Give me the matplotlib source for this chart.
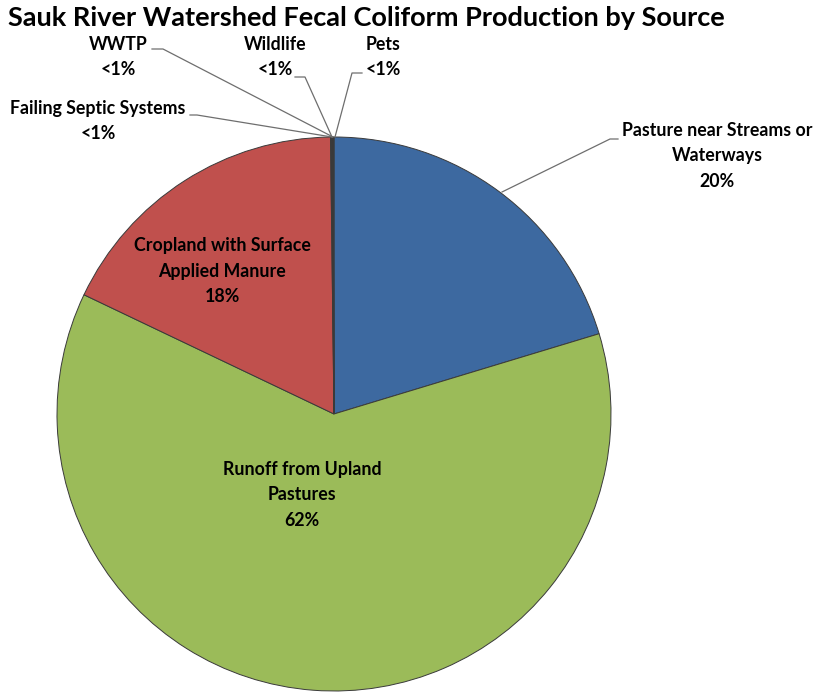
import matplotlib.pyplot as plt

# data (clockwise from 12 o'clock)
sources = ['Pasture near Streams or\nWaterways', 'Runoff from Upland\nPastures',
           'Cropland with Surface\nApplied Manure', 'Failing Septic Systems',
           'WWTP', 'Wildlife', 'Pets']
shares = [20.3, 61.7, 17.7, 0.06, 0.03, 0.06, 0.05]
pct_labels = ['20%', '62%', '18%', '<1%', '<1%', '<1%', '<1%']
colors = ['#3D69A0', '#9BBB59', '#C0504D', '#6B3A2A', '#3A2A20', '#5A3020', '#2E1E14']

W, H = 816, 692
fig = plt.figure(figsize=(W / 100, H / 100), dpi=100)

cx, cy, r = 334, 414, 277
ax = fig.add_axes([(cx - r) / W, (H - cy - r) / H, 2 * r / W, 2 * r / H])
ax.pie(shares, colors=colors, startangle=90, counterclock=False, radius=1,
       wedgeprops=dict(edgecolor='#3a3a3a', linewidth=0.7))
ax.set_xlim(-1, 1)
ax.set_ylim(-1, 1)
ax.axis('off')


def px(x, y):
    # pixel coords -> data coords
    return (x - cx) / r, (cy - y) / r


font = dict(family=['Lato', 'DejaVu Sans'], fontweight='bold', fontsize=12.8,
            color='black', ha='center', va='center', linespacing=1.6)

fig.text(366 / W, 1 - 18 / H, 'Sauk River Watershed Fecal Coliform Production by Source',
         ha='center', va='center', fontsize=19.5, fontweight='bold',
         family=['Lato', 'DejaVu Sans'])

# label positions (pixels)
label_pos = {
    0: (717, 156),
    1: (302, 495),
    2: (222, 271),
    3: (98, 121),
    4: (118, 57),
    5: (275, 57),
    6: (383, 57),
}
for i, (x, y) in label_pos.items():
    tx, ty = px(x, y)
    ax.text(tx, ty, sources[i] + '\n' + pct_labels[i], clip_on=False, **font)

# leader lines (pixels)
leaders = [
    [(618, 139), (610, 139), (502, 192)],
    [(190, 115), (197, 115), (332, 137)],
    [(152, 49), (163, 49), (333, 137)],
    [(295, 77), (305, 77), (332, 137)],
    [(362, 73), (352, 73), (335, 137)],
]
for pts in leaders:
    xs, ys = zip(*[px(a, b) for a, b in pts])
    ax.plot(xs, ys, color='#6e6e6e', linewidth=0.9, clip_on=False)

fig.savefig('out.png', dpi=100)
